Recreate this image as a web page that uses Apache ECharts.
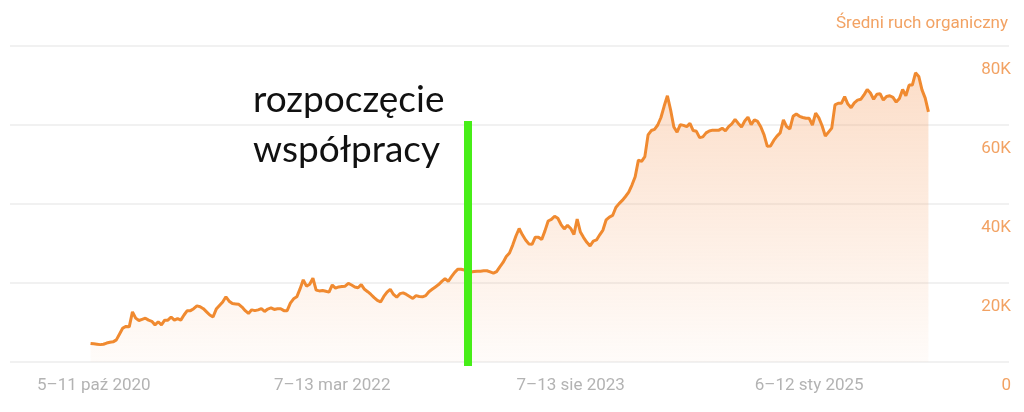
<!DOCTYPE html>
<html>
<head>
<meta charset="utf-8">
<script src="https://cdn.jsdelivr.net/npm/echarts@6/dist/echarts.min.js"></script>
<style>
  html, body { margin: 0; padding: 0; background: #fff; }
  #chart { width: 1024px; height: 412px; }
</style>
</head>
<body>
<div id="chart"></div>
<script>
// weekly organic traffic, first point = week of 28 wrz 2020
const traffic = [
  4700, 4600, 4500, 4400, 4500, 4800, 5000, 5100, 5600, 7100,
  8600, 9000, 8900, 12700, 11100, 10500, 10800, 11100, 10600, 10300,
  9400, 10200, 9400, 10600, 10600, 11400, 10600, 11000, 10600, 11900,
  13000, 13000, 13500, 14200, 14000, 13500, 12700, 11900, 11400, 13400,
  14300, 15200, 16500, 15400, 14800, 14700, 14600, 13900, 13000, 12300,
  13200, 13000, 13200, 13500, 12800, 13400, 13700, 13300, 13500, 13500,
  13000, 13000, 14900, 16000, 16500, 18500, 20800, 19200, 19700, 21200,
  18200, 18000, 18100, 17900, 17700, 19500, 18700, 19000, 19100, 19200,
  19900, 19500, 19000, 18800, 19600, 18400, 17800, 17100, 16300, 15600,
  15200, 16600, 17700, 18400, 17100, 16400, 17300, 17500, 17100, 16600,
  16100, 16800, 16600, 16500, 16800, 17800, 18400, 19000, 19600, 20400,
  21100, 20400, 21600, 22700, 23500, 23500, 23300, 23000, 22800, 22900,
  23000, 23000, 23100, 23100, 22800, 22500, 22900, 24100, 25200, 26700,
  27600, 29600, 31900, 33800, 32200, 30900, 29900, 29800, 31600, 31600,
  31000, 33200, 35700, 36100, 36900, 36400, 34800, 33700, 34600, 33800,
  32300, 36200, 32900, 31500, 30300, 29400, 30600, 30900, 32200, 33400,
  36000, 36700, 37100, 39100, 40100, 40900, 41900, 43000, 44800, 46900,
  51100, 50800, 52000, 57500, 58600, 58900, 60000, 61900, 64800, 67400,
  63800, 59500, 58200, 60100, 59900, 59600, 60400, 58600, 58400, 56800,
  57000, 58000, 58500, 58700, 58700, 58700, 59200, 58500, 59600, 60300,
  61400, 60400, 59500, 61000, 62000, 60100, 61300, 60900, 59500, 57500,
  54600, 54700, 56100, 57200, 58000, 61300, 59600, 59000, 62200, 62800,
  62200, 61900, 61700, 61700, 60000, 63000, 61800, 59800, 57200, 58200,
  59200, 65100, 65500, 65500, 67200, 65300, 64400, 65600, 66300, 66500,
  67600, 69000, 68100, 66500, 67800, 67900, 66300, 67200, 67400, 67000,
  65800, 66700, 69000, 67400, 70100, 70100, 73200, 72300, 68900, 66800,
  63300
]
const tickLabels = ['5–11 paź 2020', '7–13 mar 2022', '7–13 sie 2023', '6–12 sty 2025']
const startLabel = 'rozpoczęcie\nwspółpracy'
const startWeek = '26 gru–1 sty 2023'

const months = ['sty', 'lut', 'mar', 'kwi', 'maj', 'cze', 'lip', 'sie', 'wrz', 'paź', 'lis', 'gru']
const padBefore = 25
const padAfter = 25
const weekCount = padBefore + traffic.length + padAfter

function weekLabel(i) {
  const a = new Date(Date.UTC(2020, 3, 6 + i * 7))
  const b = new Date(Date.UTC(2020, 3, 12 + i * 7))
  if (a.getUTCMonth() === b.getUTCMonth()) {
    return a.getUTCDate() + '–' + b.getUTCDate() + ' ' + months[b.getUTCMonth()] + ' ' + b.getUTCFullYear()
  }
  return a.getUTCDate() + ' ' + months[a.getUTCMonth()] + '–' + b.getUTCDate() + ' ' + months[b.getUTCMonth()] + ' ' + b.getUTCFullYear()
}

const weeks = []
for (let i = 0; i < weekCount; i++) weeks.push(weekLabel(i))
const seriesData = weeks.map((w, i) => {
  const k = i - padBefore
  return k >= 0 && k < traffic.length ? traffic[k] : null
})

const orange = '#f08a30'
const chart = echarts.init(document.getElementById('chart'))
chart.setOption({
  animation: false,
  title: {
    text: 'Średni ruch organiczny',
    right: 11,
    top: 10,
    textStyle: { color: '#f2a263', fontSize: 17, fontWeight: 'normal', fontFamily: 'Roboto' }
  },
  grid: { left: 10, right: 15, top: 46, bottom: 50 },
  xAxis: {
    type: 'category',
    boundaryGap: false,
    data: weeks,
    axisLine: { show: false },
    axisTick: { show: false },
    splitLine: { show: false },
    axisLabel: {
      interval: (i, v) => tickLabels.includes(v),
      color: '#b3b3b3',
      fontSize: 17,
      fontFamily: 'Roboto',
      margin: 15
    }
  },
  yAxis: {
    type: 'value',
    position: 'right',
    min: 0,
    max: 80000,
    interval: 20000,
    axisLine: { show: false },
    axisTick: { show: false },
    splitLine: { lineStyle: { color: '#ececec', width: 1.5 } },
    axisLabel: {
      inside: true,
      margin: -2,
      verticalAlign: 'top',
      padding: [15, 0, 0, 0],
      color: '#f2a263',
      fontSize: 17,
      fontFamily: 'Roboto',
      formatter: v => (v === 0 ? '0' : v / 1000 + 'K')
    }
  },
  series: [{
    type: 'line',
    data: seriesData,
    symbol: 'none',
    lineStyle: { color: orange, width: 3 },
    areaStyle: {
      color: new echarts.graphic.LinearGradient(0, 0, 0, 1, [
        { offset: 0, color: 'rgba(246,160,100,0.50)' },
        { offset: 1, color: 'rgba(246,160,100,0.05)' }
      ])
    },
    markLine: {
      silent: true,
      symbol: 'none',
      label: { show: false },
      lineStyle: { color: '#47ee18', width: 8, type: 'solid', cap: 'square' },
      data: [[{ coord: [startWeek, 0] }, { coord: [startWeek, 60000] }]]
    }
  }],
  graphic: [{
    type: 'text',
    left: 253,
    top: 75,
    style: {
      text: startLabel,
      font: '37px Lato',
      lineHeight: 50,
      fill: '#111'
    }
  }]
})
</script>
</body>
</html>
